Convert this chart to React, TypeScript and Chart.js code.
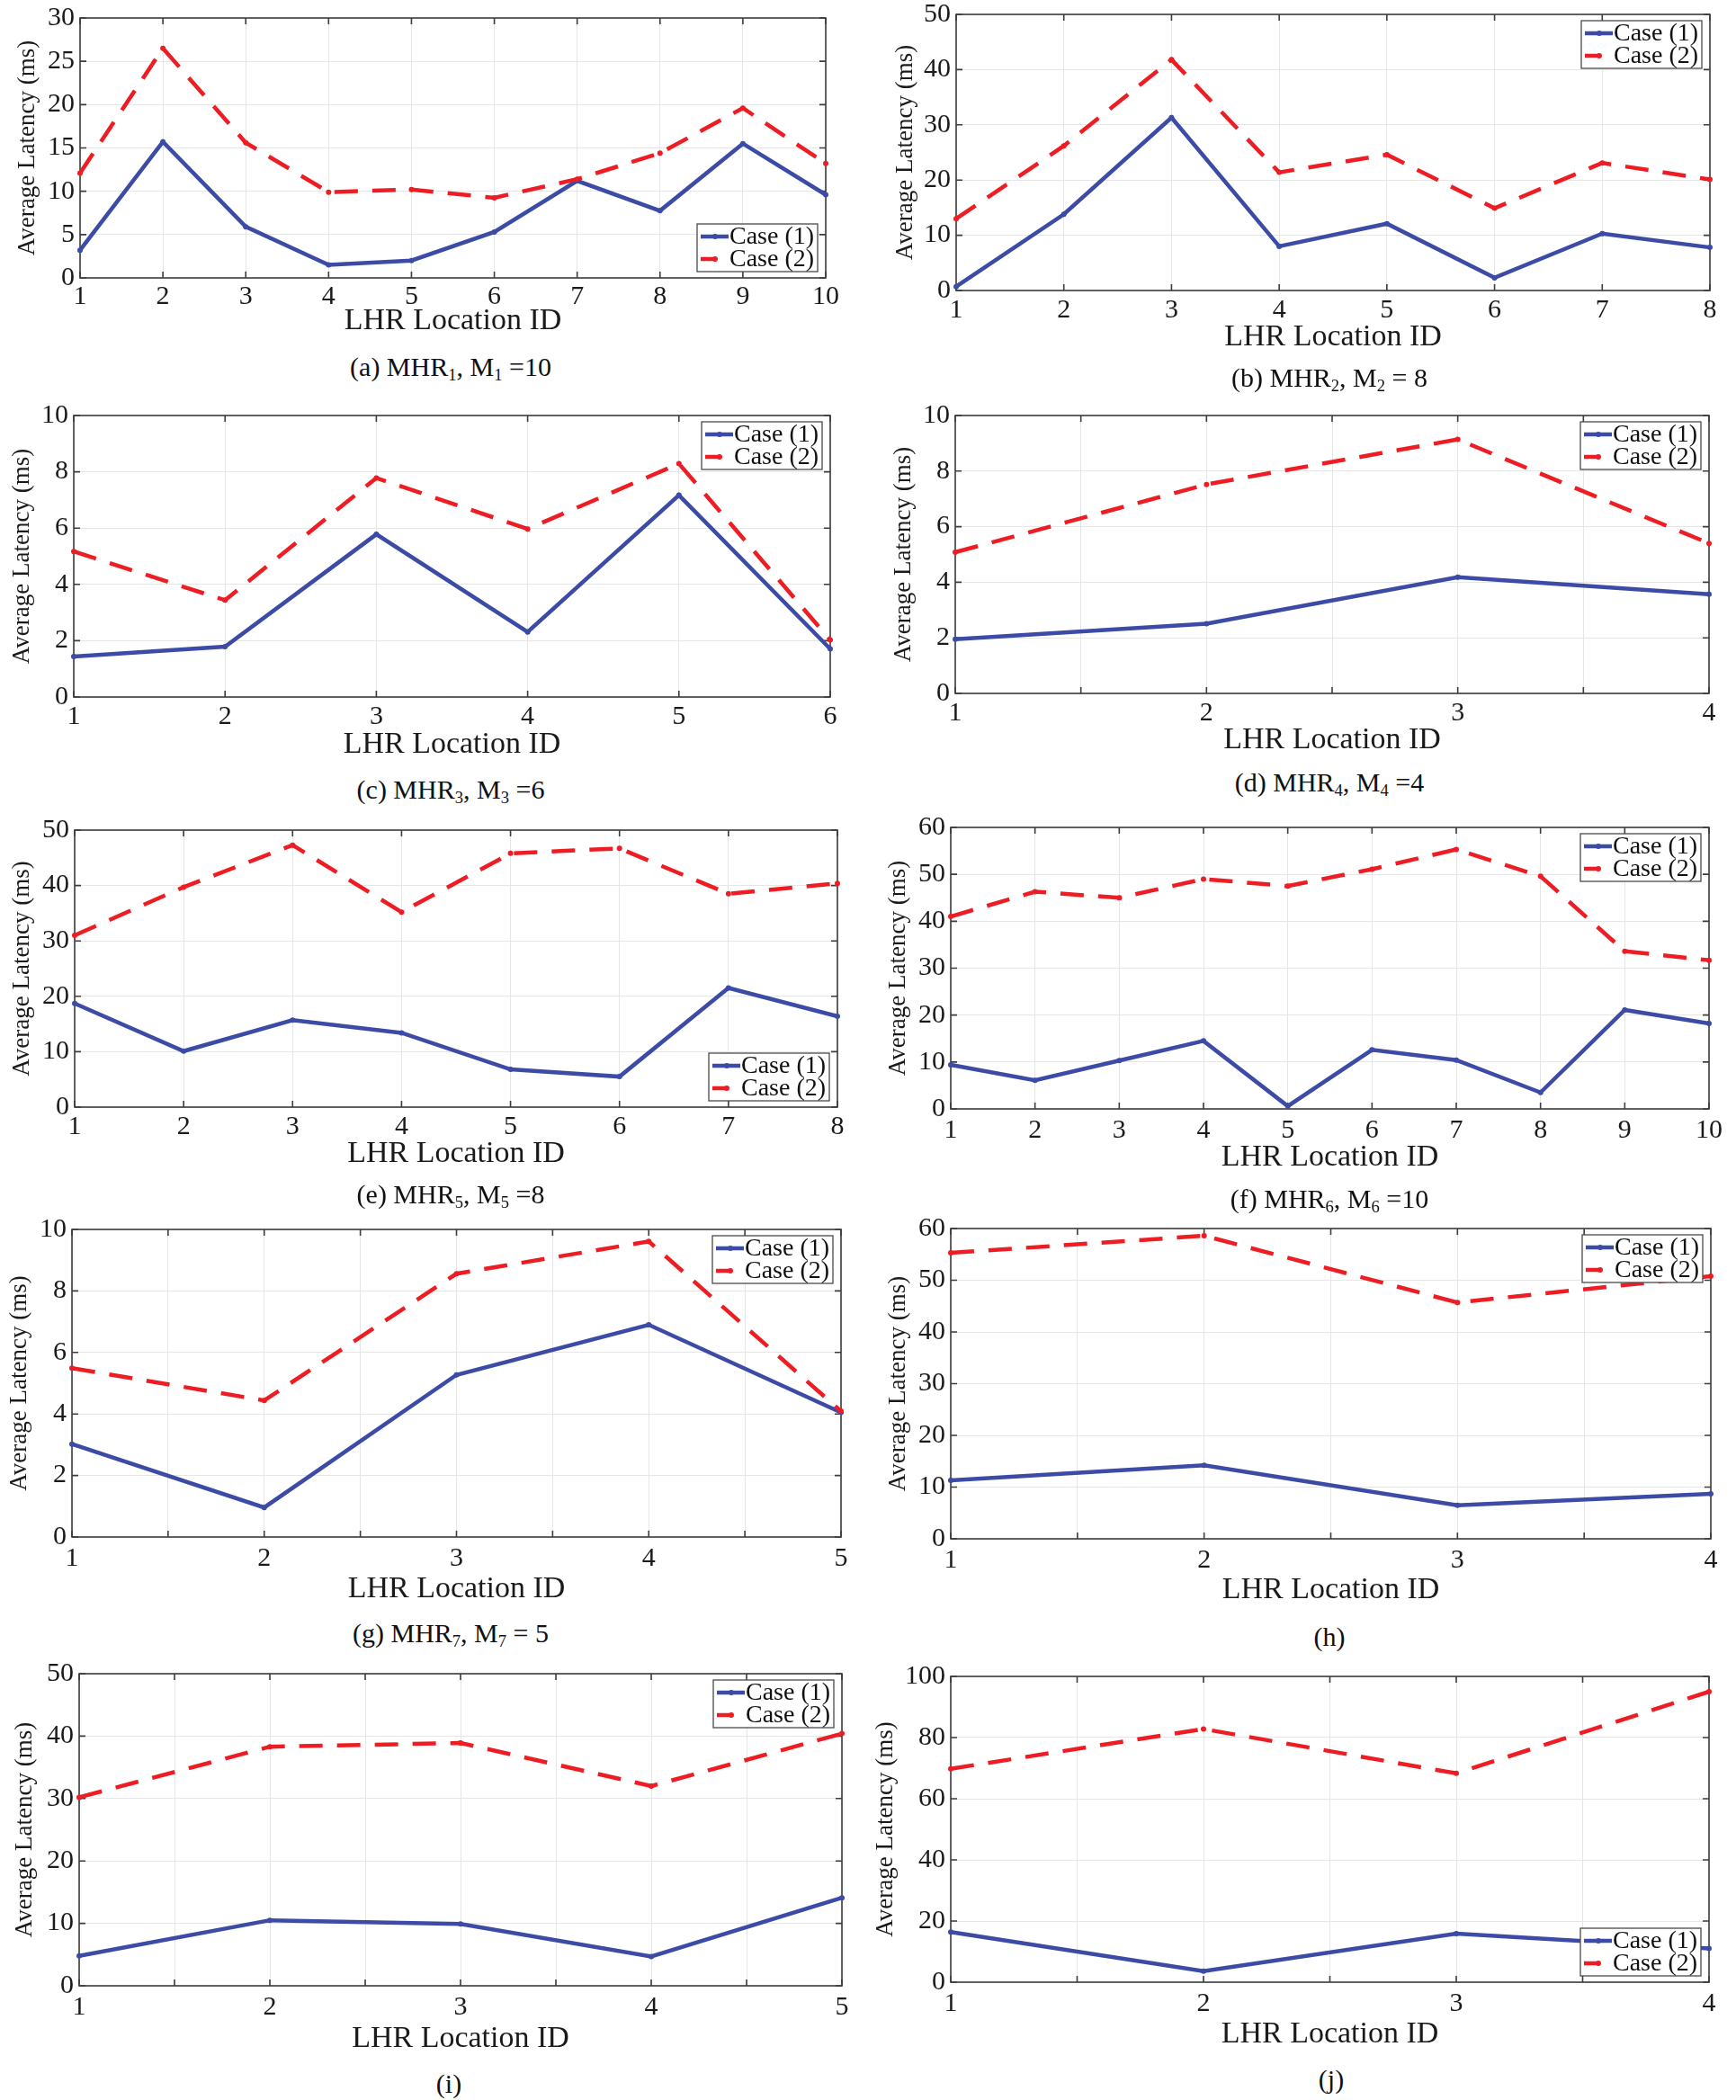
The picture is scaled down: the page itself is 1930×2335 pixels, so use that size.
import React, { useEffect, useRef } from "react";
import { Chart, registerables } from "chart.js";

Chart.register(...registerables);

const FONT = "Liberation Serif, Times New Roman, serif";
Chart.defaults.font.family = FONT;

const BLUE = "#3b4ba6";
const RED = "#ee1d23";

// ---------------- data ----------------
const locA = [1, 2, 3, 4, 5, 6, 7, 8, 9, 10];
const case1A = [3.2, 15.7, 5.9, 1.5, 2.0, 5.3, 11.2, 7.75, 15.5, 9.6];
const case2A = [12.1, 26.5, 15.6, 9.9, 10.2, 9.25, 11.4, 14.4, 19.6, 13.2];

const locB = [1, 2, 3, 4, 5, 6, 7, 8];
const case1B = [0.7, 13.8, 31.3, 8.0, 12.1, 2.3, 10.3, 7.8];
const case2B = [13.0, 26.2, 41.8, 21.4, 24.6, 14.9, 23.1, 20.1];

const locC = [1, 2, 3, 4, 5, 6];
const case1C = [1.44, 1.79, 5.78, 2.31, 7.17, 1.71];
const case2C = [5.17, 3.44, 7.78, 5.97, 8.29, 2.03];

const locD = [1, 2, 3, 4];
const case1D = [1.95, 2.51, 4.18, 3.57];
const case2D = [5.08, 7.52, 9.14, 5.4];

const locE = [1, 2, 3, 4, 5, 6, 7, 8];
const case1E = [18.7, 10.1, 15.7, 13.4, 6.8, 5.5, 21.5, 16.4];
const case2E = [31.0, 39.7, 47.3, 35.2, 45.8, 46.7, 38.5, 40.4];

const locF = [1, 2, 3, 4, 5, 6, 7, 8, 9, 10];
const case1F = [9.4, 6.1, 10.3, 14.5, 0.6, 12.6, 10.4, 3.5, 21.1, 18.2];
const case2F = [41.0, 46.3, 45.0, 49.0, 47.5, 51.1, 55.3, 49.6, 33.6, 31.7];

const locG = [1, 2, 3, 4, 5];
const case1G = [3.02, 0.96, 5.27, 6.9, 4.05];
const case2G = [5.49, 4.44, 8.56, 9.61, 4.09];

const locH = [1, 2, 3, 4];
const case1H = [11.3, 14.2, 6.5, 8.7];
const case2H = [55.3, 58.6, 45.7, 50.8];

const locI = [1, 2, 3, 4, 5];
const case1I = [4.8, 10.5, 9.9, 4.7, 14.1];
const case2I = [30.2, 38.3, 38.9, 32.0, 40.4];

const locJ = [1, 2, 3, 4];
const case1J = [16.4, 3.6, 15.9, 11.0];
const case2J = [69.8, 82.8, 68.3, 95.0];

const seriesNames = ["Case (1)", "Case (2)"];
const yMaxes = [30, 50, 10, 10, 50, 60, 10, 60, 50, 100];
const ySteps = [5, 10, 2, 2, 10, 10, 2, 10, 10, 20];
const xSteps = [1, 1, 1, 0.5, 1, 1, 0.5, 0.5, 0.5, 0.5];
const xTitle = "LHR Location ID";
const yTitle = "Average Latency (ms)";

const captionTags = ["(a)", "(b)", "(c)", "(d)", "(e)", "(f)", "(g)", "(h)", "(i)", "(j)"];
const captionIdx = ["1", "2", "3", "4", "5", "6", "7", "", "", ""];
const captionM = ["=10", "= 8", "=6", "=4", "=8", "=10", "= 5", "", "", ""];

const locs = [locA, locB, locC, locD, locE, locF, locG, locH, locI, locJ];
const case1s = [case1A, case1B, case1C, case1D, case1E, case1F, case1G, case1H, case1I, case1J];
const case2s = [case2A, case2B, case2C, case2D, case2E, case2F, case2G, case2H, case2I, case2J];

// ---------------- layout (page pixels) ----------------
type Layout = {
  col: number; L: number; R: number; T: number; B: number;
  tickY: number; xTitleY: number; capY: number; capX: number; yTitleX: number;
  legend: "ne" | "se";
};

const layouts: Layout[] = [
  { col: 0, L: 89, R: 918, T: 20, B: 309, tickY: 330, xTitleY: 357, capY: 410, capX: 501, yTitleX: 31, legend: "se" },
  { col: 965, L: 1063, R: 1901, T: 16, B: 323, tickY: 345, xTitleY: 375, capY: 422, capX: 1478, yTitleX: 1007, legend: "ne" },
  { col: 0, L: 82, R: 923, T: 462, B: 775, tickY: 797, xTitleY: 828, capY: 880, capX: 501, yTitleX: 25, legend: "ne" },
  { col: 965, L: 1062, R: 1900, T: 462, B: 771, tickY: 793, xTitleY: 823, capY: 872, capX: 1478, yTitleX: 1005, legend: "ne" },
  { col: 0, L: 83, R: 931, T: 923, B: 1231, tickY: 1253, xTitleY: 1283, capY: 1330, capX: 501, yTitleX: 25, legend: "se" },
  { col: 965, L: 1057, R: 1900, T: 920, B: 1233, tickY: 1257, xTitleY: 1287, capY: 1335, capX: 1478, yTitleX: 999, legend: "ne" },
  { col: 0, L: 80, R: 935, T: 1367, B: 1709, tickY: 1733, xTitleY: 1767, capY: 1818, capX: 501, yTitleX: 22, legend: "ne" },
  { col: 965, L: 1057, R: 1902, T: 1366, B: 1711, tickY: 1735, xTitleY: 1768, capY: 1820, capX: 1478, yTitleX: 999, legend: "ne" },
  { col: 0, L: 88, R: 936, T: 1861, B: 2208, tickY: 2232, xTitleY: 2267, capY: 2317, capX: 499, yTitleX: 28, legend: "ne" },
  { col: 965, L: 1057, R: 1900, T: 1864, B: 2204, tickY: 2228, xTitleY: 2262, capY: 2312, capX: 1480, yTitleX: 985, legend: "se" },
];

const TICK_FONT = 30;
const XTITLE_FONT = 34;
const YTITLE_FONT = 27;
const LEGEND_FONT = 28;
const CAPTION_FONT = 30;
const PAD_TOP = 24;
const PAD_RIGHT = 28;
const X_AXIS_H = 82;

// ---------------- plugins ----------------
const framePlugin = {
  id: "matlabFrame",
  beforeDatasetsDraw(chart: any) {
    const { ctx, chartArea: a, scales } = chart;
    const tl = 7;
    ctx.save();
    ctx.strokeStyle = "#3d3d3d";
    ctx.lineWidth = 1.6;
    ctx.beginPath();
    scales.x.ticks.forEach((t: any) => {
      const px = scales.x.getPixelForValue(t.value);
      ctx.moveTo(px, a.bottom);
      ctx.lineTo(px, a.bottom - tl);
      ctx.moveTo(px, a.top);
      ctx.lineTo(px, a.top + tl);
    });
    scales.y.ticks.forEach((t: any) => {
      const py = scales.y.getPixelForValue(t.value);
      ctx.moveTo(a.left, py);
      ctx.lineTo(a.left + tl, py);
      ctx.moveTo(a.right, py);
      ctx.lineTo(a.right - tl, py);
    });
    ctx.stroke();
    ctx.strokeRect(a.left, a.top, a.right - a.left, a.bottom - a.top);
    ctx.restore();
  },
};

const legendPlugin = {
  id: "matlabLegend",
  afterDatasetsDraw(chart: any, _args: any, opts: any) {
    const { ctx, chartArea: a } = chart;
    const w = 134;
    const h = 53;
    const x0 = a.right - 9 - w;
    const y0 = opts.pos === "se" ? a.bottom - 7 - h : a.top + 7;
    ctx.save();
    ctx.fillStyle = "#ffffff";
    ctx.fillRect(x0, y0, w, h);
    ctx.strokeStyle = "#4a4a4a";
    ctx.lineWidth = 1.3;
    ctx.strokeRect(x0, y0, w, h);
    chart.data.datasets.forEach((ds: any, i: number) => {
      const cy = y0 + 14 + i * 25;
      ctx.strokeStyle = ds.borderColor;
      ctx.lineWidth = ds.borderWidth;
      ctx.setLineDash(ds.borderDash ? [17, 40] : []);
      ctx.beginPath();
      ctx.moveTo(x0 + 4, cy);
      ctx.lineTo(x0 + 35, cy);
      ctx.stroke();
      ctx.setLineDash([]);
      ctx.fillStyle = ds.borderColor;
      ctx.beginPath();
      ctx.arc(x0 + 20, cy, 3, 0, Math.PI * 2);
      ctx.fill();
      ctx.fillStyle = "#111111";
      ctx.font = `${LEGEND_FONT}px ${FONT}`;
      ctx.textBaseline = "middle";
      ctx.textAlign = "left";
      ctx.fillText(ds.label, x0 + 36, cy + 1);
    });
    ctx.restore();
  },
};

// ---------------- panel ----------------
function Panel({ idx }: { idx: number }) {
  const ref = useRef<HTMLCanvasElement>(null);
  const lay = layouts[idx];
  const left = lay.col;
  const top = lay.T - PAD_TOP;
  const cw = lay.R + PAD_RIGHT - left;
  const ch = lay.B + X_AXIS_H - top;

  useEffect(() => {
    const loc = locs[idx];
    const c1 = case1s[idx];
    const c2 = case2s[idx];
    const yAxisW = lay.L - left;
    const tickLH = TICK_FONT * 1.2;
    const xtLH = XTITLE_FONT * 1.2;
    const ytLH = YTITLE_FONT * 1.2;
    const chart = new Chart(ref.current as HTMLCanvasElement, {
      type: "line",
      data: {
        datasets: [
          {
            label: seriesNames[0],
            data: loc.map((x, i) => ({ x, y: c1[i] })),
            borderColor: BLUE,
            backgroundColor: BLUE,
            borderWidth: 4.5,
            pointRadius: 3,
            pointBorderWidth: 0,
            pointBackgroundColor: BLUE,
            tension: 0,
            clip: false as any,
            order: 1,
          },
          {
            label: seriesNames[1],
            data: loc.map((x, i) => ({ x, y: c2[i] })),
            borderColor: RED,
            backgroundColor: RED,
            borderWidth: 4.5,
            borderDash: [26, 16],
            pointRadius: 3,
            pointBorderWidth: 0,
            pointBackgroundColor: RED,
            tension: 0,
            clip: false as any,
            order: 0,
          },
        ],
      },
      options: {
        responsive: false,
        maintainAspectRatio: false,
        animation: false,
        devicePixelRatio: 1,
        font: { family: FONT },
        layout: { padding: { left: 0, top: PAD_TOP, right: PAD_RIGHT, bottom: 0 } },
        plugins: {
          legend: { display: false },
          tooltip: { enabled: false },
          matlabLegend: { pos: lay.legend },
        } as any,
        scales: {
          x: {
            type: "linear",
            min: 1,
            max: loc[loc.length - 1],
            afterFit: (s: any) => {
              s.height = X_AXIS_H;
            },
            grid: { color: "#e6e6e6", lineWidth: 1, drawTicks: false },
            border: { display: false },
            ticks: {
              stepSize: xSteps[idx],
              autoSkip: false,
              maxRotation: 0,
              padding: lay.tickY - lay.B - tickLH / 2,
              color: "#1a1a1a",
              font: { family: FONT, size: TICK_FONT },
              callback: (v: any) => (Number.isInteger(Number(v)) ? String(v) : ""),
            },
            title: {
              display: true,
              text: xTitle,
              color: "#1a1a1a",
              font: { family: FONT, size: XTITLE_FONT },
              padding: { top: 0, bottom: X_AXIS_H - xtLH / 2 - (lay.xTitleY - lay.B) },
            },
          },
          y: {
            type: "linear",
            min: 0,
            max: yMaxes[idx],
            afterFit: (s: any) => {
              s.width = yAxisW;
            },
            grid: { color: "#e6e6e6", lineWidth: 1, drawTicks: false },
            border: { display: false },
            ticks: {
              stepSize: ySteps[idx],
              padding: 6,
              color: "#1a1a1a",
              font: { family: FONT, size: TICK_FONT },
            },
            title: {
              display: true,
              text: yTitle,
              color: "#1a1a1a",
              font: { family: FONT, size: YTITLE_FONT },
              padding: { top: Math.max(0, lay.yTitleX - left - ytLH / 2), bottom: 0 },
            },
          },
        },
      } as any,
      plugins: [framePlugin as any, legendPlugin as any],
    });
    return () => chart.destroy();
  }, [idx]);

  return (
    <canvas
      ref={ref}
      width={cw}
      height={ch}
      style={{ position: "absolute", left, top, width: cw, height: ch }}
    />
  );
}

function Caption({ idx }: { idx: number }) {
  const lay = layouts[idx];
  const sub = captionIdx[idx];
  const subStyle: React.CSSProperties = { fontSize: "0.62em", verticalAlign: "-0.28em" };
  return (
    <div
      style={{
        position: "absolute",
        left: lay.capX,
        top: lay.capY,
        transform: "translate(-50%, -50%)",
        fontFamily: FONT,
        fontSize: CAPTION_FONT,
        color: "#111",
        whiteSpace: "nowrap",
        lineHeight: 1,
      }}
    >
      {captionTags[idx]}
      {sub ? (
        <>
          {" MHR"}
          <span style={subStyle}>{sub}</span>
          {", M"}
          <span style={subStyle}>{sub}</span>
          {" " + captionM[idx]}
        </>
      ) : null}
    </div>
  );
}

export default function App() {
  useEffect(() => {
    document.body.style.margin = "0";
    document.body.style.background = "#ffffff";
  }, []);
  return (
    <div style={{ position: "relative", width: 1930, height: 2335, background: "#ffffff", overflow: "hidden" }}>
      {layouts.map((_, i) => (
        <Panel key={"p" + i} idx={i} />
      ))}
      {layouts.map((_, i) => (
        <Caption key={"c" + i} idx={i} />
      ))}
    </div>
  );
}
